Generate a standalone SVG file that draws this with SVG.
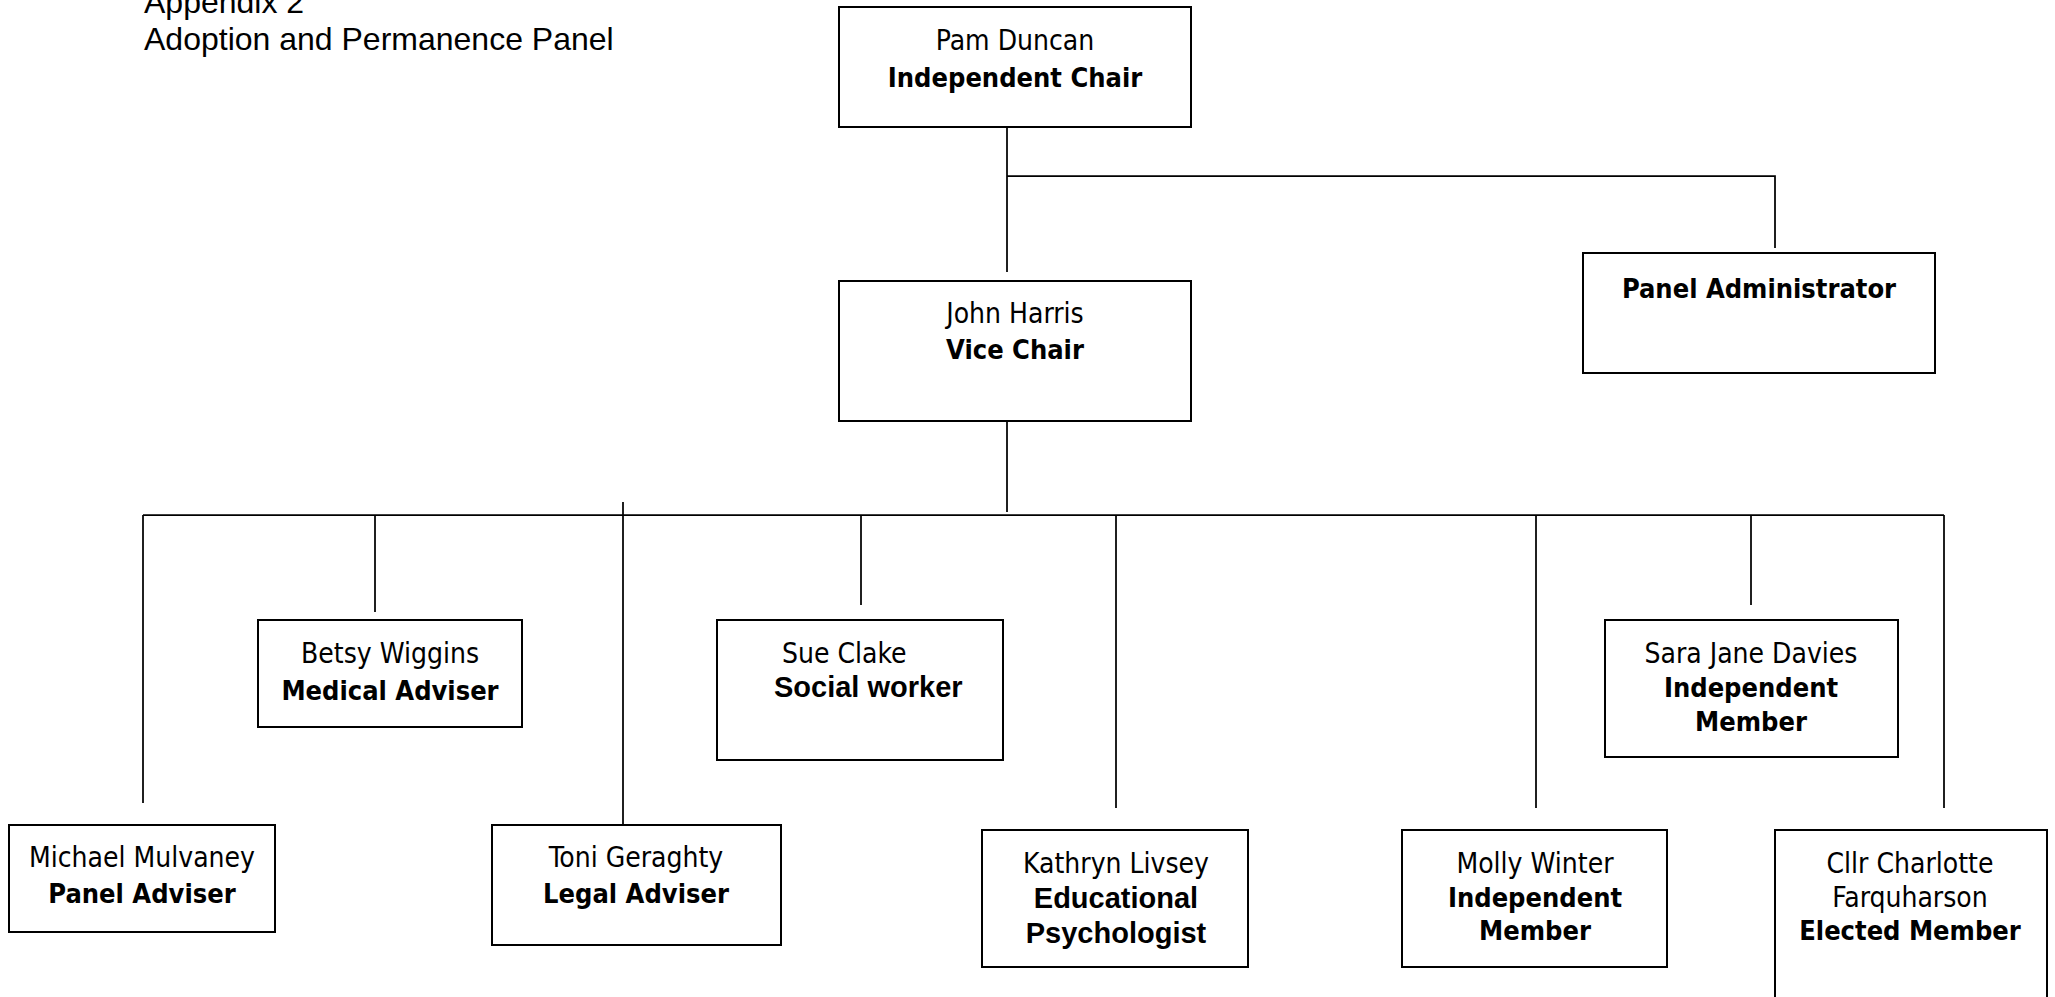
<svg xmlns="http://www.w3.org/2000/svg" width="2055" height="997" viewBox="0 0 2055 997">
<style>
.box{fill:#fff;stroke:#000;stroke-width:2}
.ln{stroke:#000;stroke-width:1.75;fill:none}
.t{font-family:"DejaVu Sans Condensed","DejaVu Sans",sans-serif;font-stretch:condensed;font-size:28px;fill:#000;text-anchor:middle}
.b{font-weight:bold;font-size:27px}
.a{font-family:"Liberation Sans",Arial,sans-serif;font-stretch:normal;font-size:29px;font-weight:bold}
.title{font-family:"Liberation Sans",Arial,sans-serif;font-size:32px;fill:#000}
</style>
<rect width="2055" height="997" fill="#fff"/>
<g id="title">
<text class="title" x="144" y="13">Appendix 2</text>
<text class="title" x="144" y="50">Adoption and Permanence Panel</text>
</g>
<g id="connectors">
<line class="ln" x1="1007" y1="127" x2="1007" y2="272"/>
<polyline class="ln" points="1007,176 1775,176 1775,248"/>
<line class="ln" x1="1007" y1="416" x2="1007" y2="512"/>
<line class="ln" x1="143" y1="515" x2="1944" y2="515"/>
<line class="ln" x1="143" y1="515" x2="143" y2="803"/>
<line class="ln" x1="375" y1="515" x2="375" y2="612"/>
<line class="ln" x1="623" y1="502" x2="623" y2="824"/>
<line class="ln" x1="861" y1="515" x2="861" y2="605"/>
<line class="ln" x1="1116" y1="515" x2="1116" y2="808"/>
<line class="ln" x1="1536" y1="515" x2="1536" y2="808"/>
<line class="ln" x1="1751" y1="515" x2="1751" y2="605"/>
<line class="ln" x1="1944" y1="515" x2="1944" y2="808"/>
</g>
<g id="pam">
<rect class="box" x="839" y="7" width="352" height="120"/>
<text class="t" x="1015" y="50">Pam Duncan</text>
<text class="t b" x="1015" y="87">Independent Chair</text>
</g>
<g id="admin">
<rect class="box" x="1583" y="253" width="352" height="120"/>
<text class="t b" x="1759" y="298">Panel Administrator</text>
</g>
<g id="john">
<rect class="box" x="839" y="281" width="352" height="140"/>
<text class="t" x="1015" y="323">John Harris</text>
<text class="t b" x="1015" y="359">Vice Chair</text>
</g>
<g id="betsy">
<rect class="box" x="258" y="620" width="264" height="107"/>
<text class="t" x="390" y="663">Betsy Wiggins</text>
<text class="t b" x="390" y="700">Medical Adviser</text>
</g>
<g id="sue">
<rect class="box" x="717" y="620" width="286" height="140"/>
<text class="t" x="782" y="663" style="text-anchor:start">Sue Clake</text>
<text class="t a" x="774" y="697" style="text-anchor:start">Social worker</text>
</g>
<g id="sara">
<rect class="box" x="1605" y="620" width="293" height="137"/>
<text class="t" x="1751" y="663">Sara Jane Davies</text>
<text class="t b" x="1751" y="697">Independent</text>
<text class="t b" x="1751" y="731">Member</text>
</g>
<g id="michael">
<rect class="box" x="9" y="825" width="266" height="107"/>
<text class="t" x="142" y="867">Michael Mulvaney</text>
<text class="t b" x="142" y="903">Panel Adviser</text>
</g>
<g id="toni">
<rect class="box" x="492" y="825" width="289" height="120"/>
<text class="t" x="636" y="867">Toni Geraghty</text>
<text class="t b" x="636" y="903">Legal Adviser</text>
</g>
<g id="kathryn">
<rect class="box" x="982" y="830" width="266" height="137"/>
<text class="t" x="1116" y="873">Kathryn Livsey</text>
<text class="t a" x="1116" y="908">Educational</text>
<text class="t a" x="1116" y="943">Psychologist</text>
</g>
<g id="molly">
<rect class="box" x="1402" y="830" width="265" height="137"/>
<text class="t" x="1535" y="873">Molly Winter</text>
<text class="t b" x="1535" y="907">Independent</text>
<text class="t b" x="1535" y="940">Member</text>
</g>
<g id="cllr">
<rect class="box" x="1775" y="830" width="272" height="220"/>
<text class="t" x="1910" y="873">Cllr Charlotte</text>
<text class="t" x="1910" y="907">Farquharson</text>
<text class="t b" x="1910" y="940">Elected Member</text>
</g>
</svg>
